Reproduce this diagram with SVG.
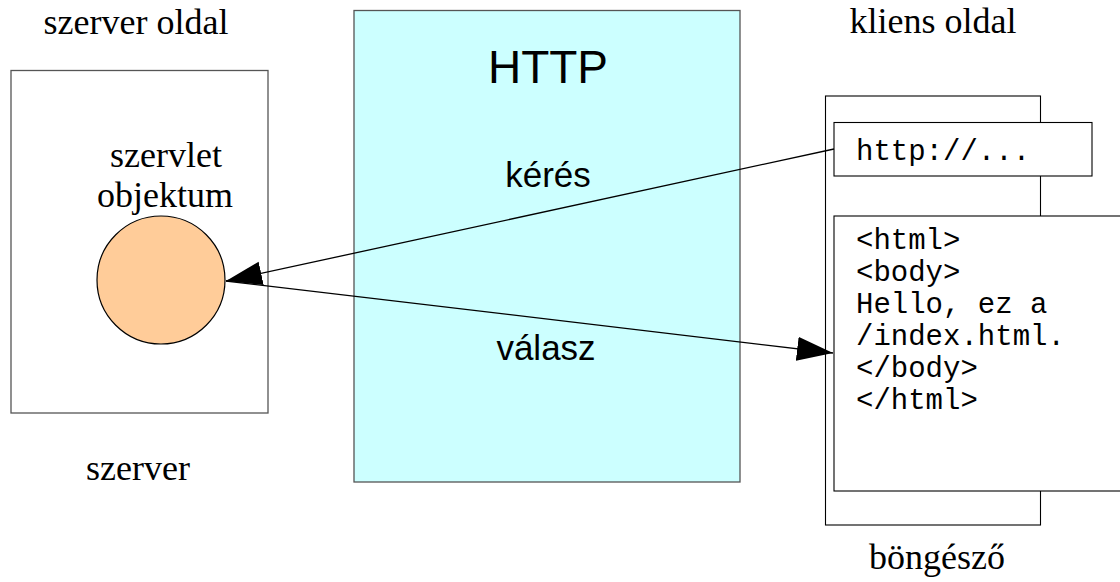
<svg xmlns="http://www.w3.org/2000/svg" width="1120" height="582" viewBox="0 0 1120 582">
  <style>
    .serif { font-family: "Liberation Serif", "Times New Roman", serif; font-size: 36px; fill: #000; text-anchor: middle; }
    .sans { font-family: "Liberation Sans", Arial, sans-serif; fill: #000; text-anchor: middle; }
    .mono { font-family: "Liberation Mono", "Courier New", monospace; font-size: 29px; fill: #000; }
    .frame { fill: #fff; stroke: #555; stroke-width: 1.3; }
    .panel { fill: #fff; stroke: #000; stroke-width: 1.1; }
    .link { fill: none; stroke: #000; stroke-width: 1.3; }
  </style>
  <defs>
    <marker id="arrow" markerUnits="userSpaceOnUse" markerWidth="38" markerHeight="26" refX="36" refY="12" orient="auto">
      <path d="M0,0 L36,12 L0,24 z" fill="#000"/>
    </marker>
  </defs>
  <rect width="1120" height="582" fill="#fff"/>

  <!-- server side -->
  <g id="server">
    <text class="serif" x="136" y="34">szerver oldal</text>
    <rect class="frame" x="11" y="70.5" width="257" height="342.5"/>
    <text class="serif" x="138" y="480">szerver</text>
  </g>

  <g id="servlet">
    <text class="serif" x="166" y="167">szervlet</text>
    <text class="serif" x="165" y="207">objektum</text>
    <circle cx="161" cy="280" r="64" fill="#ffcc99" stroke="#000" stroke-width="1.2"/>
  </g>

  <!-- protocol -->
  <g id="http">
    <rect x="354" y="10.5" width="386" height="471.5" fill="#ccffff" stroke="#555" stroke-width="1.3"/>
    <text class="sans" x="548" y="83" font-size="46">HTTP</text>
    <text class="sans" x="548" y="187" font-size="35">kérés</text>
    <text class="sans" x="546" y="360" font-size="35">válasz</text>
  </g>

  <!-- client side -->
  <g id="browser">
    <text class="serif" x="933" y="33">kliens oldal</text>
    <rect class="panel" x="825.5" y="96" width="215" height="429"/>
    <text class="serif" x="937" y="569">böngésző</text>
  </g>

  <g id="url">
    <rect class="panel" x="834" y="122.5" width="258" height="53.5"/>
    <text class="mono" x="856" y="160">http://...</text>
  </g>

  <g id="page">
    <rect class="panel" x="834" y="216" width="300" height="275"/>
    <text class="mono">
      <tspan x="856" y="249">&lt;html&gt;</tspan>
      <tspan x="856" y="281">&lt;body&gt;</tspan>
      <tspan x="856" y="313">Hello, ez a</tspan>
      <tspan x="856" y="345">/index.html.</tspan>
      <tspan x="856" y="377">&lt;/body&gt;</tspan>
      <tspan x="856" y="409">&lt;/html&gt;</tspan>
    </text>
  </g>

  <!-- request and response -->
  <g id="connectors">
    <line class="link" x1="834" y1="149" x2="226" y2="281" marker-end="url(#arrow)"/>
    <line class="link" x1="226" y1="281" x2="833" y2="353" marker-end="url(#arrow)"/>
  </g>
</svg>
